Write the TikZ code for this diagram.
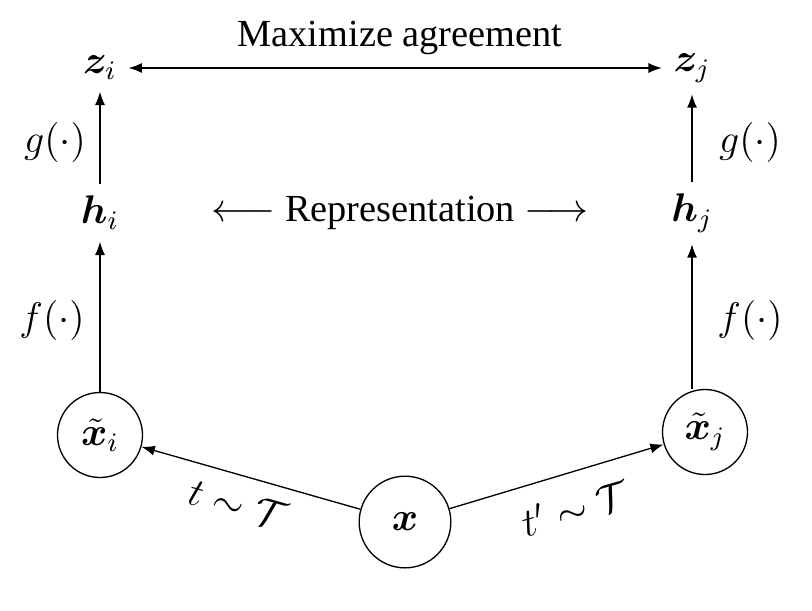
\documentclass[tikz,border=0pt]{standalone}
\usepackage{amsmath,bm}
\usepackage{fontspec}
\setmainfont{Liberation Serif}
\usetikzlibrary{arrows.meta}
\begin{document}
\begin{tikzpicture}[x=0.3pt,y=-0.3pt,
  lbl/.style={font=\fontsize{11.5}{13}\selectfont},
  circ/.style={circle,draw,line width=0.4pt,minimum size=25.5pt,inner sep=0pt,font=\fontsize{11.5}{13}\selectfont},
  arr/.style={-{Latex[length=4pt,width=3pt]},line width=0.4pt}]
\useasboundingbox (0,0) rectangle (812,610);
\node[lbl] (zi) at (100,68) {$\bm{z}_i$};
\node[lbl] (zj) at (692,68) {$\bm{z}_j$};
\node[lbl] (hi) at (100,213) {$\bm{h}_i$};
\node[lbl] (hj) at (692,213) {$\bm{h}_j$};
\node[circ] (xi) at (100,435) {$\tilde{\bm{x}}_i$};
\node[circ] (xj) at (705,432) {$\tilde{\bm{x}}_j$};
\node[circ,minimum size=27.5pt] (x) at (405,522) {$\bm{x}$};
\draw[arr] (xi) -- (hi);
\draw[arr] (hi) -- (zi);
\draw[arr] (xj.north -| hj) -- (hj);
\draw[arr] (hj) -- (zj);
\draw[arr] (x) -- (xi);
\draw[arr] (x) -- (xj);
\draw[{Latex[length=4pt,width=3pt]}-{Latex[length=4pt,width=3pt]},line width=0.4pt] (zi) -- (zj);
\node[lbl] (ma) at (400,38) {Maximize agreement};
\node[lbl] (rep) at (400,213) {$\longleftarrow$ Representation $\longrightarrow$};
\node[lbl] (gl) at (55,142) {$g(\cdot)$};
\node[lbl] (gr) at (750,142) {$g(\cdot)$};
\node[lbl] (fl) at (52,320) {$f(\cdot)$};
\node[lbl] (fr) at (750,320) {$f(\cdot)$};
\node[lbl,rotate=-16] (tl) at (238,504) {$t\sim\mathcal{T}$};
\node[lbl,rotate=16] (tr) at (575,508) {$t'\sim\mathcal{T}$};
\end{tikzpicture}
\end{document}
